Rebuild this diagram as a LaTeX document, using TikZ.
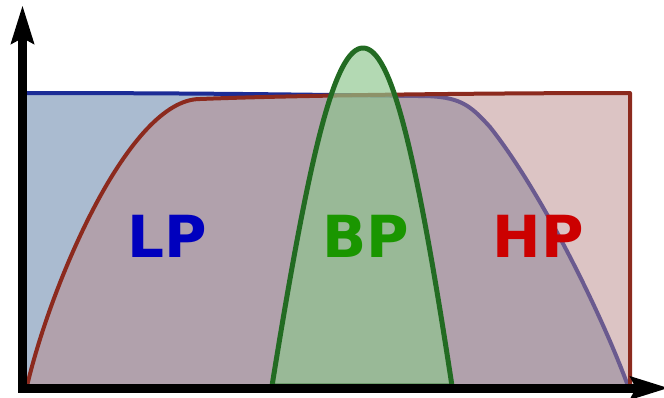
\documentclass[tikz,border=0pt]{standalone}
\usepackage{fontspec}
\setsansfont{DejaVu Sans}
\usetikzlibrary{arrows.meta}
\definecolor{lpline}{RGB}{28,44,150}
\definecolor{lpfill}{RGB}{170,187,208}
\definecolor{hpline}{RGB}{140,42,30}
\definecolor{hpfill}{RGB}{185,137,137}
\definecolor{bpline}{RGB}{34,107,34}
\definecolor{bpfill}{RGB}{142,198,142}
\definecolor{lptext}{RGB}{0,0,190}
\definecolor{bptext}{RGB}{26,150,0}
\definecolor{hptext}{RGB}{204,0,0}

\begin{document}
\begin{tikzpicture}[x=1pt, y=-1pt,
    axis/.style={line width=9pt, line join=miter, {Stealth[length=38pt, width=22pt, inset=5pt]}-{Stealth[length=38pt, width=22pt, inset=5pt]}},
    band/.style={line width=4pt, line join=round},
    lbl/.style={inner sep=0pt, font=\sffamily\bfseries\fontsize{58}{58}\selectfont}]
  \useasboundingbox (0,0) rectangle (664,397);
  \coordinate (o)    at (22.5,388);
  \coordinate (ytip) at (22.5,5);
  \coordinate (xtip) at (669,388);
  \fill[lpfill] (o) -- (22.5,93) .. controls (250,93) and (380,96) .. (420,96)
    .. controls (460,96) and (470,105) .. (490,127)
    .. controls (540,190) and (600,310) .. (628,388) -- cycle;
  \draw[band, lpline] (22.5,93) .. controls (250,93) and (380,96) .. (420,96)
    .. controls (460,96) and (470,105) .. (490,127)
    .. controls (540,190) and (600,310) .. (628,386);
  \draw[band, hpline, fill=hpfill, fill opacity=0.5] (27,386)
    .. controls (52,280) and (130,99) .. (200,99)
    .. controls (300,95) and (500,93) .. (630,93) -- (630,386) -- cycle;
  \draw[band, line width=5pt, bpline, fill=bpfill, fill opacity=0.67] (272,386)
    .. controls (310,150) and (335,48) .. (363,48)
    .. controls (391,48) and (416,150) .. (452,386) -- cycle;
  \node[lbl, lptext] (lp) at (167,236) {LP};
  \node[lbl, bptext] (bp) at (366,236) {BP};
  \node[lbl, hptext] (hp) at (538,236) {HP};
  \draw[axis] (ytip) -- (o) -- (xtip);
\end{tikzpicture}
\end{document}
